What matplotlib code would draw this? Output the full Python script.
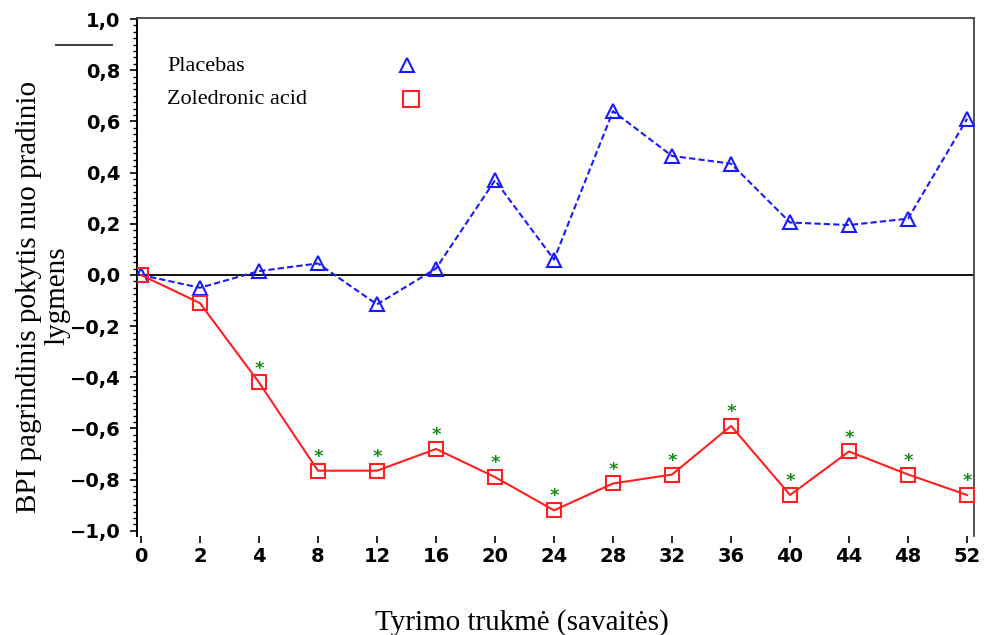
import matplotlib
matplotlib.use("Agg")
import matplotlib.pyplot as plt
from matplotlib.ticker import MultipleLocator, FixedLocator
from matplotlib.lines import Line2D

weeks = ["0", "2", "4", "8", "12", "16", "20", "24", "28", "32", "36", "40", "44", "48", "52"]
placebo = [0.0, -0.05, 0.015, 0.045, -0.115, 0.025, 0.37, 0.06, 0.64, 0.465, 0.435, 0.205, 0.195, 0.22, 0.61]
zoledronic = [0.0, -0.11, -0.42, -0.765, -0.765, -0.68, -0.79, -0.92, -0.815, -0.78, -0.59, -0.86, -0.69, -0.78, -0.86]
significant = [False, False, True, True, True, True, True, True, True, True, True, True, True, True, True]
yticks = [-1.0, -0.8, -0.6, -0.4, -0.2, 0.0, 0.2, 0.4, 0.6, 0.8, 1.0]
ytick_labels = ["\u22121,0", "\u22120,8", "\u22120,6", "\u22120,4", "\u22120,2", "0,0", "0,2", "0,4", "0,6", "0,8", "1,0"]
series_names = ["Placebas", "Zoledronic acid"]

BLUE = "#1a1aff"
RED = "#ff1f1f"
GREEN = "#1a8a1a"

fig = plt.figure(figsize=(9.85, 6.35), dpi=100)
ax = fig.add_axes([0.139, 0.156, 0.850, 0.816])

x = list(range(len(weeks)))
ax.axhline(0, color="black", lw=1.3, zorder=1)
ax.plot(x, placebo, color=BLUE, lw=1.5, ls=(0, (3, 1.5)), marker="^", ms=10,
        mfc="none", mec=BLUE, mew=1.5, zorder=3)
ax.plot(x, zoledronic, color=RED, lw=1.5, ls="-", marker="s", ms=10.5,
        mfc="none", mec=RED, mew=1.5, zorder=3)
for xi, yi, s in zip(x, zoledronic, significant):
    if s:
        ax.annotate("*", (xi, yi), xytext=(0, 3.5), textcoords="offset points",
                    ha="center", va="bottom", color=GREEN, fontsize=13,
                    fontweight="bold", family="DejaVu Sans")

ax.set_xlim(-0.068, 14.12)
ax.set_ylim(-1.02, 1.005)
ax.set_xticks(x)
ax.set_xticklabels(weeks)
ax.yaxis.set_major_locator(FixedLocator(yticks))
ax.set_yticklabels(ytick_labels)
ax.yaxis.set_minor_locator(MultipleLocator(0.025))

for lab in ax.get_xticklabels() + ax.get_yticklabels():
    lab.set_fontfamily("DejaVu Sans")
    lab.set_fontweight("bold")
    lab.set_fontsize(14)

ax.tick_params(axis="y", which="major", direction="out", length=5, width=1.2, pad=7)
ax.tick_params(axis="y", which="minor", direction="out", length=3, width=1.0)
ax.tick_params(axis="x", which="major", direction="out", length=5, width=1.2, pad=3)
ax.spines["bottom"].set_visible(False)
ax.spines["left"].set_color("black")
ax.spines["left"].set_linewidth(1.4)
for s in ["top", "right"]:
    ax.spines[s].set_color("#444444")
    ax.spines[s].set_linewidth(1.3)

# legend (manual)
ax.text(0.036, 0.906, series_names[0], transform=ax.transAxes, family="Liberation Serif",
        fontsize=16, va="center", ha="left")
ax.text(0.036, 0.842, series_names[1], transform=ax.transAxes, family="Liberation Serif",
        fontsize=16, va="center", ha="left")
ax.plot([0.323], [0.909], transform=ax.transAxes, marker="^", ms=10, mfc="none", mec=BLUE, mew=1.5)
ax.plot([0.327], [0.843], transform=ax.transAxes, marker="s", ms=12, mfc="none", mec=RED, mew=1.5)

# y label (two lines)
fig.text(0.029, 0.532, "BPI pagrindinis pokytis nuo pradinio", rotation=90, ha="center",
         va="center", family="Liberation Serif", fontsize=21)
fig.text(0.058, 0.535, "lygmens", rotation=90, ha="center", va="center",
         family="Liberation Serif", fontsize=21)
fig.add_artist(Line2D([0.057, 0.114], [0.929, 0.929], color="#444444", lw=1.5))

fig.text(0.530, 0.020, "Tyrimo trukm\u0117 (savait\u0117s)", ha="center", va="center",
         family="Liberation Serif", fontsize=21)

fig.savefig("out.png", dpi=100)
